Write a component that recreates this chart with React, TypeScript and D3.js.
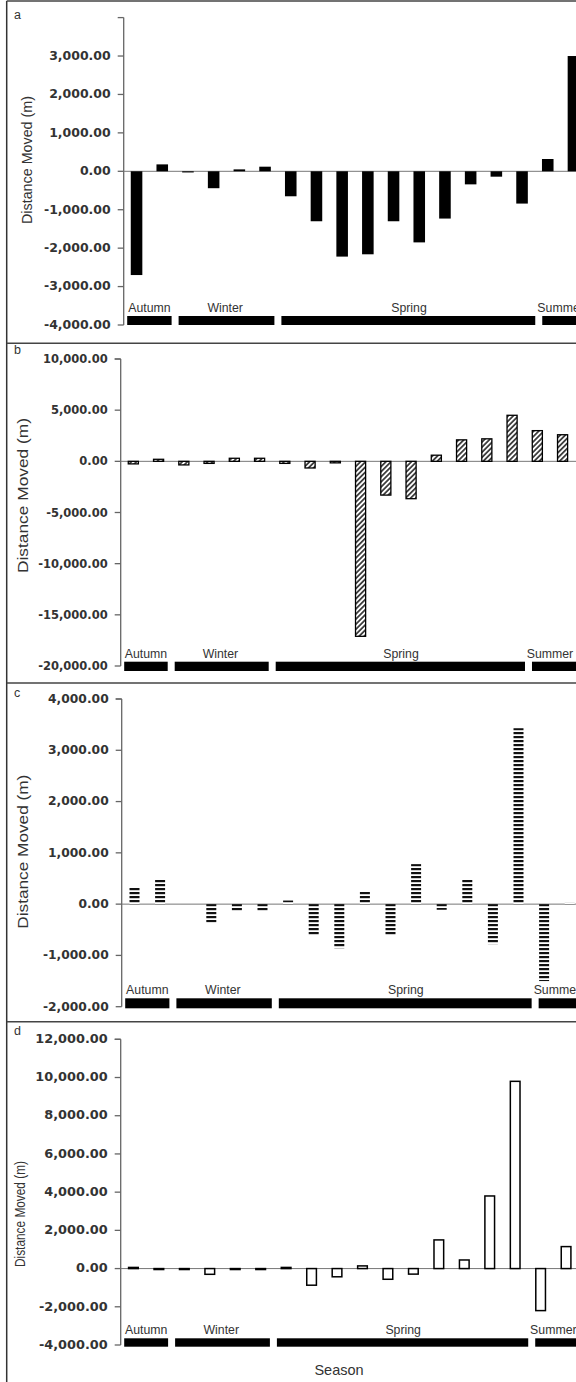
import React from 'react';
import * as d3 from 'd3';

// sampling occasions (only the first 18 are visible, the figure is cropped on the right)
const categories = ['1', '2', '3', '4', '5', '6', '7', '8', '9', '10', '11', '12', '13', '14', '15', '16', '17', '18'];

// distance moved (m) per occasion, one array per animal
const valuesA = [-2700, 180, -30, -440, 50, 120, -650, -1300, -2220, -2160, -1300, -1850, -1230, -340, -140, -840, 320, 3000];
const valuesB = [-250, 200, -350, -200, 300, 300, -200, -650, -150, -17100, -3300, -3650, 600, 2100, 2200, 4500, 3000, 2600];
const valuesC = [320, 480, 0, -360, -130, -130, 70, -620, -860, 250, -620, 780, -110, 480, -780, 3430, -1500, 30];
const valuesD = [60, -50, -50, -300, -50, -50, 60, -870, -430, 140, -560, -290, 1500, 450, 3800, 9800, -2200, 1150];

// y tick labels
const ticksA = [-4000, -3000, -2000, -1000, 0, 1000, 2000, 3000];
const ticksB = [-20000, -15000, -10000, -5000, 0, 5000, 10000];
const ticksC = [-2000, -1000, 0, 1000, 2000, 3000, 4000];
const ticksD = [-4000, -2000, 0, 2000, 4000, 6000, 8000, 10000, 12000];

// seasons, in occasion units
const seasonNames = ['Autumn', 'Winter', 'Spring', 'Summer'];
const seasonStart = [0, 2, 6, 16.15];
const seasonEnd = [2, 6, 16.15, 22];
const seasonLabelAt = [1.0, 3.95, 11.1, 17.0];

const fmt = d3.formatLocale({ decimal: '.', thousands: ',', grouping: [3], currency: ['', ''], minus: '-' }).format(',.2f');

const panels = [
  { letter: 'a', values: valuesA, ticks: ticksA, domain: [-4000, 4000], kind: 'solid',
    axisX: 123.7, step: 25.7, yTop: 17.6, yBot: 325, pad: 0.55, tickFont: 12, tickSX: 1.04,
    labX: 27, labY: 160, labLen: 128, letY: 18.5, sTop: -9, sH: 9, frameY: 1 },
  { letter: 'b', values: valuesB, ticks: ticksB, domain: [-20000, 10000], kind: 'hatch',
    axisX: 120.7, step: 25.25, yTop: 359, yBot: 666, pad: 0.6, tickFont: 11.5, tickSX: 1.0,
    labX: 22.5, labY: 495.5, labLen: 155, letY: 354, sTop: -4.3, sH: 9.3, frameY: 343.3 },
  { letter: 'c', values: valuesC, ticks: ticksC, domain: [-2000, 4000], kind: 'stripes',
    axisX: 121.7, step: 25.6, yTop: 699, yBot: 1006.7, pad: 0.61, tickFont: 11.5, tickSX: 1.07,
    labX: 22.5, labY: 851.7, labLen: 154, letY: 697, sTop: -8.4, sH: 10, frameY: 683 },
  { letter: 'd', values: valuesD, ticks: ticksD, domain: [-4000, 12000], kind: 'open',
    axisX: 120.7, step: 25.45, yTop: 1039.3, yBot: 1345, pad: 0.62, tickFont: 11.5, tickSX: 1.12,
    labX: 20, labY: 1214, labLen: 106, letY: 1035, sTop: -6.7, sH: 8.4, frameY: 1021.7 },
];

const W = 576;
const H = 1382;

const Panel = ({ p }) => {
  const n = categories.length;
  const x = d3.scaleBand().domain(categories).range([p.axisX, p.axisX + n * p.step]).paddingInner(p.pad).paddingOuter(p.pad / 2);
  const xi = d3.scaleLinear().domain([0, n]).range([p.axisX, p.axisX + n * p.step]);
  const y = d3.scaleLinear().domain(p.domain).range([p.yBot, p.yTop]);
  const fill = p.kind === 'solid' ? '#000' : p.kind === 'hatch' ? 'url(#hatch)' : p.kind === 'stripes' ? 'url(#stripes)' : '#fff';
  const stroke = p.kind === 'hatch' || p.kind === 'open' ? '#000' : 'none';
  const sw = p.kind === 'open' ? 1.5 : 1.3;

  return (
    <g>
      {/* panel frame line */}
      <line x1={6.7} x2={W} y1={p.frameY} y2={p.frameY} stroke="#444" strokeWidth={1.5} />
      <text x={14} y={p.letY} fontFamily="Liberation Sans, Arial, sans-serif" fontSize={12.5} fill="#333">{p.letter}</text>

      {/* y axis */}
      <line x1={p.axisX} x2={p.axisX} y1={p.yTop} y2={p.yBot} stroke="#666" strokeWidth={1.3} />
      <line x1={p.axisX - 6} x2={p.axisX} y1={y(p.domain[1])} y2={y(p.domain[1])} stroke="#666" strokeWidth={1.3} />
      {p.ticks.map((t) => (
        <g key={t}>
          <line x1={p.axisX - 6} x2={p.axisX} y1={y(t)} y2={y(t)} stroke="#666" strokeWidth={1.3} />
          <text
            transform={`translate(${p.axisX - 13},${y(t)}) scale(${p.tickSX},1)`}
            textAnchor="end"
            dominantBaseline="central"
            fontFamily="DejaVu Sans, Verdana, sans-serif"
            fontWeight="bold"
            fontSize={p.tickFont}
            fill="#333"
          >
            {fmt(t)}
          </text>
        </g>
      ))}
      <text
        transform={`translate(${p.labX},${p.labY}) rotate(-90)`}
        textAnchor="middle"
        dominantBaseline="central"
        fontFamily="Liberation Sans, Arial, sans-serif"
        fontSize={14}
        textLength={p.labLen}
        lengthAdjust="spacingAndGlyphs"
        fill="#333"
      >
        Distance Moved (m)
      </text>

      {/* zero line */}
      <line x1={p.axisX} x2={W} y1={y(0)} y2={y(0)} stroke="#777" strokeWidth={1} />

      {/* bars */}
      {p.values.map((v, i) => (
        <rect
          key={i}
          x={x(categories[i])}
          width={x.bandwidth()}
          y={Math.min(y(v), y(0))}
          height={Math.max(Math.abs(y(v) - y(0)), 0.01)}
          fill={fill}
          stroke={v === 0 ? 'none' : stroke}
          strokeWidth={sw}
        />
      ))}

      {/* season bars */}
      {seasonNames.map((s, i) => (
        <g key={s}>
          <rect
            x={xi(seasonStart[i]) + 3.5}
            width={xi(seasonEnd[i]) - xi(seasonStart[i]) - 7}
            y={p.yBot + p.sTop}
            height={p.sH}
            fill="#000"
          />
          <text
            x={xi(seasonLabelAt[i])}
            y={p.yBot + p.sTop - 4}
            textAnchor="middle"
            fontFamily="Liberation Sans, Arial, sans-serif"
            fontSize={12.3}
            fill="#333"
          >
            {s}
          </text>
        </g>
      ))}
    </g>
  );
};

export default function App() {
  return (
    <div style={{ position: 'absolute', left: 0, top: 0, background: 'white' }}>
      <svg width={W} height={H} style={{ display: 'block' }}>
        <defs>
          <pattern id="hatch" patternUnits="userSpaceOnUse" width={3.6} height={3.6} patternTransform="rotate(45)">
            <rect width={3.6} height={3.6} fill="#fff" />
            <line x1={1.8} x2={1.8} y1={0} y2={3.6} stroke="#333" strokeWidth={1.7} />
          </pattern>
          <pattern id="stripes" patternUnits="userSpaceOnUse" width={4} height={4}>
            <rect width={4} height={4} fill="#fff" />
            <rect width={4} height={2.2} fill="#111" />
          </pattern>
        </defs>
        <rect width={W} height={H} fill="#fff" />
        {/* outer frame, left side */}
        <line x1={6.7} x2={6.7} y1={1} y2={H} stroke="#333" strokeWidth={1.5} />
        {panels.map((p) => (
          <Panel key={p.letter} p={p} />
        ))}
        <text
          x={339}
          y={1375}
          textAnchor="middle"
          fontFamily="Liberation Sans, Arial, sans-serif"
          fontSize={14.5}
          fill="#333"
        >
          Season
        </text>
      </svg>
    </div>
  );
}
